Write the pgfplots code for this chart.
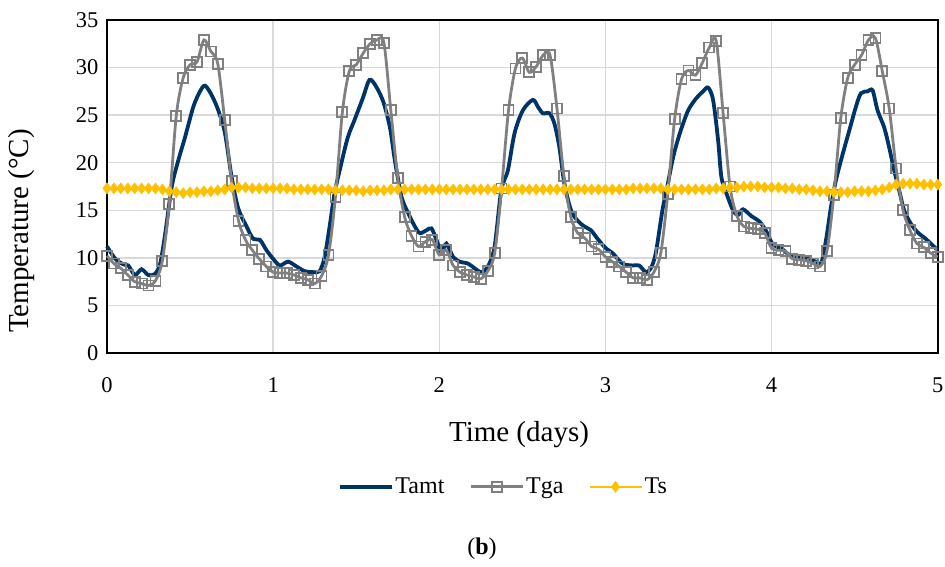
\documentclass[border=0pt]{standalone}
\usepackage{pgfplots}
\pgfplotsset{compat=1.18}
\usepackage{fontspec}
\setmainfont{Liberation Serif}
\definecolor{navy}{RGB}{0,51,102}
\definecolor{tgagray}{RGB}{128,128,128}
\definecolor{gold}{RGB}{255,192,0}
\definecolor{gridgray}{RGB}{217,217,217}
\begin{document}
\begin{tikzpicture}[x=1pt,y=1pt]
\useasboundingbox (0pt,0pt) rectangle (945pt,-567pt);
\begin{axis}[
  at={(107pt,-353pt)}, anchor=south west,
  scale only axis, width=830.7pt, height=333pt,
  xmin=0, xmax=5, ymin=0, ymax=35,
  xtick={0,1,2,3,4,5}, ytick={0,5,10,15,20,25,30,35},
  major tick length=0pt,
  grid=major,
  grid style={line width=1.5pt, gridgray},
  axis line style={black, line width=1.6pt},
  /pgf/number format/assume math mode=true,
  tick label style={font=\fontsize{22.5}{24}\selectfont},
  xticklabel style={yshift=-21pt},
  yticklabel style={xshift=-5pt},
  clip=false,
  legend columns=3,
  legend style={at={(0.477,-0.402)}, anchor=center, draw=none, fill=none,
    font=\fontsize{24}{26}\selectfont,
    /tikz/every even column/.append style={column sep=23pt},
    inner sep=0pt},
  legend image code/.code={\draw[mark repeat=2,mark phase=2] plot coordinates {(0pt,0pt)(26pt,0pt)(52pt,0pt)};},
]
\addplot[navy, line width=3.8pt, smooth, tension=0.5, no marks] coordinates {
(0,11.2) (0.05,9.9) (0.1,9.3) (0.128,9.2) (0.168,8.2) (0.208,8.8) (0.248,8.2) (0.288,8.3) (0.32,9.4) (0.35,12.5) (0.39,17.5) (0.43,20.3) (0.47,22.7) (0.52,25.9) (0.56,27.5) (0.59,28.1) (0.63,27.1) (0.67,25.5) (0.71,23.1) (0.75,18.5) (0.79,15.2) (0.84,13.3) (0.88,12.0) (0.92,11.9) (0.96,10.8) (1.0,9.9)
(1.04,9.2) (1.09,9.6) (1.14,9.1) (1.19,8.6) (1.24,8.5) (1.28,8.6) (1.31,10.1) (1.34,13.3) (1.37,16.8) (1.41,19.9) (1.45,22.7) (1.49,24.5) (1.54,26.8) (1.58,28.7) (1.62,28.0) (1.663,26.4) (1.703,23.7) (1.733,20.2) (1.773,16.4) (1.813,14.7) (1.853,13.3) (1.883,12.6) (1.923,12.9) (1.953,13.1) (1.983,11.9)
(2.013,10.6) (2.043,11.5) (2.083,10.1) (2.123,9.6) (2.173,9.4) (2.213,8.9) (2.253,8.5) (2.293,9.1) (2.333,11.2) (2.373,17.1) (2.413,19.2) (2.453,23.1) (2.503,25.5) (2.563,26.6) (2.593,25.9) (2.623,25.2) (2.663,25.2) (2.693,24.1) (2.723,21.6) (2.753,17.8) (2.793,15.0) (2.833,13.9) (2.873,13.3) (2.913,12.9) (2.953,12.0)
(3.003,11.0) (3.043,10.5) (3.103,9.4) (3.163,9.2) (3.203,9.2) (3.243,8.5) (3.273,8.9) (3.303,10.5) (3.343,15.0) (3.368,17.1) (3.408,20.6) (3.448,23.1) (3.498,25.5) (3.548,26.8) (3.588,27.5) (3.618,27.9) (3.648,26.6) (3.678,22.4) (3.698,18.5) (3.728,16.8) (3.768,15.0) (3.798,14.5) (3.828,15.1) (3.878,14.4) (3.928,13.8) (3.968,12.8)
(4.008,11.4) (4.058,11.0) (4.108,10.3) (4.168,10.1) (4.218,9.9) (4.268,9.6) (4.298,9.4) (4.328,11.9) (4.358,15.4) (4.388,18.2) (4.428,20.9) (4.468,23.4) (4.508,25.9) (4.538,27.3) (4.578,27.5) (4.608,27.6) (4.638,25.5) (4.678,23.7) (4.708,21.6) (4.738,19.2) (4.768,17.1) (4.798,15.0) (4.838,13.6) (4.878,12.7) (4.928,12.0) (4.988,11.0) (5.0,10.8)
};
\addlegendentry{Tamt}
\addplot[tgagray, line width=2.8pt, smooth, tension=0.5, mark=square, mark size=5pt, mark options={solid, fill=none, draw=tgagray, line width=1.8pt}] table[x expr=\coordindex/24, y index=0, header=false] {
10.2
9.4
8.9
8.2
7.5
7.3
7.1
7.6
9.7
15.7
24.9
28.9
30.3
30.6
32.9
31.7
30.4
24.5
18.1
13.9
11.9
10.8
9.9
9.1
8.5
8.4
8.4
8.2
7.9
7.7
7.3
8.1
10.3
16.4
25.3
29.6
30.3
31.5
32.5
32.9
32.6
25.5
18.4
14.3
12.3
11.2
11.7
11.9
10.3
10.8
9.2
8.5
8.2
8.0
7.8
8.6
10.5
17.3
25.5
29.9
31.0
29.5
30.1
31.3
31.3
25.7
18.6
14.3
12.6
12.1
11.2
10.9
10.1
9.6
9.1
8.5
7.9
7.9
7.7
8.5
10.5
16.7
24.6
28.8
29.7
29.2
30.5
32.1
32.8
25.2
17.5
14.4
13.3
13.1
13.0
12.6
11.0
10.8
10.7
9.9
9.8
9.7
9.4
9.1
10.7
16.6
24.7
28.9
30.3
31.3
32.9
33.1
29.6
25.7
19.4
15.0
12.9
11.5
11.1
10.5
10.1
};
\addlegendentry{Tga}
\addplot[gold, line width=2pt, smooth, tension=0.5, mark=diamond*, mark size=5.5pt, mark options={solid, fill=gold, draw=gold, line width=0.5pt}] table[x expr=\coordindex/24, y index=0, header=false] {
17.3
17.3
17.3
17.3
17.3
17.3
17.3
17.3
17.2
17.0
16.9
16.8
16.9
16.9
17.0
17.0
17.1
17.2
17.4
17.4
17.4
17.3
17.3
17.3
17.3
17.3
17.3
17.2
17.2
17.2
17.2
17.2
17.2
17.1
17.1
17.1
17.1
17.0
17.1
17.1
17.1
17.2
17.2
17.2
17.2
17.2
17.2
17.2
17.2
17.2
17.2
17.2
17.2
17.2
17.2
17.2
17.2
17.2
17.2
17.2
17.2
17.2
17.2
17.2
17.2
17.2
17.2
17.2
17.2
17.2
17.2
17.2
17.2
17.2
17.2
17.2
17.3
17.3
17.3
17.3
17.3
17.2
17.2
17.2
17.2
17.2
17.2
17.2
17.3
17.3
17.4
17.4
17.5
17.5
17.5
17.4
17.4
17.4
17.3
17.3
17.2
17.2
17.1
17.0
17.0
16.9
16.9
16.9
17.0
17.0
17.0
17.1
17.2
17.4
17.7
17.8
17.8
17.8
17.7
17.7
17.7
};
\addlegendentry{Ts}
\end{axis}
\node[rotate=90, font=\fontsize{29}{31}\selectfont] at (22pt,-231pt) {Temperature (°C)};
\node[font=\fontsize{29}{31}\selectfont] at (519pt,-435pt) {Time (days)};
\node[font=\fontsize{24}{26}\selectfont] at (482pt,-549pt) {(\textbf{b})};
\end{tikzpicture}
\end{document}
